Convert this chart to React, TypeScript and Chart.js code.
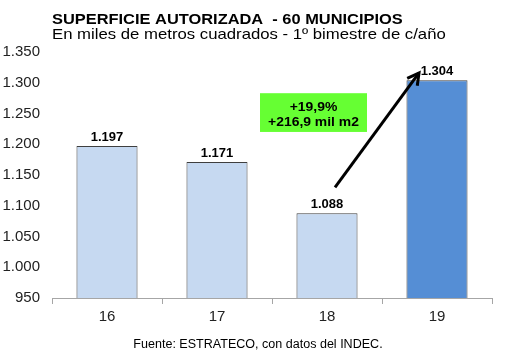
import React, { useEffect, useRef } from "react";
import { Chart, registerables } from "chart.js";

Chart.register(...registerables);

const categories = ["16", "17", "18", "19"];
const values = [1197, 1171, 1088, 1304];
const barColors = ["#c6d9f1", "#c6d9f1", "#c6d9f1", "#558ed5"];
const titleText = "SUPERFICIE AUTORIZADA  - 60 MUNICIPIOS";
const subtitleText = "En miles de metros cuadrados - 1º bimestre de c/año";
const sourceText = "Fuente: ESTRATECO, con datos del INDEC.";
const boxLines = ["+19,9%", "+216,9 mil m2"];

const fmt = (v: number) => {
  const s = Math.round(v).toString();
  return s.length > 3 ? s.slice(0, s.length - 3) + "." + s.slice(-3) : s;
};

const FONT = "'Liberation Sans', Arial, sans-serif";

function txt(ctx: any, s: string, x: number, y: number, font: string, sx: number, align: string, base: string) {
  ctx.save();
  ctx.font = font;
  ctx.textAlign = align;
  ctx.textBaseline = base;
  ctx.translate(x, y);
  ctx.scale(sx, 1);
  ctx.fillText(s, 0, 0);
  ctx.restore();
}

const overlay = {
  id: "overlay",
  afterDatasetsDraw(chart: any) {
    const ctx = chart.ctx;
    const x = chart.scales.x;
    const y = chart.scales.y;
    const meta = chart.getDatasetMeta(0);
    ctx.save();
    ctx.fillStyle = "#000";
    txt(ctx, titleText, 52, 23.5, `bold 15px ${FONT}`, 1.094, "left", "alphabetic");
    txt(ctx, subtitleText, 52, 38.5, `15px ${FONT}`, 1.115, "left", "alphabetic");
    // value labels
    meta.data.forEach((bar: any, i: number) => {
      txt(ctx, fmt(values[i]), bar.x, bar.y - 5.5, `bold 13px ${FONT}`, 1.0, "center", "alphabetic");
    });
    // green box
    const bx0 = x.getPixelForValue(2) - 67;
    const bx1 = x.getPixelForValue(2) + 40;
    const by0 = y.getPixelForValue(1283);
    const by1 = y.getPixelForValue(1220);
    ctx.fillStyle = "#66ff33";
    ctx.fillRect(bx0, by0, bx1 - bx0, by1 - by0);
    ctx.fillStyle = "#000";
    const cx = (bx0 + bx1) / 2;
    txt(ctx, boxLines[0], cx, by0 + 14.5, `bold 13px ${FONT}`, 1.07, "center", "middle");
    txt(ctx, boxLines[1], cx, by0 + 29, `bold 13px ${FONT}`, 1.07, "center", "middle");
    // arrow
    const ax0 = x.getPixelForValue(2) + 8;
    const ay0 = y.getPixelForValue(1130);
    const ax1 = x.getPixelForValue(3) - 18;
    const ay1 = y.getPixelForValue(1316);
    ctx.strokeStyle = "#000";
    ctx.lineWidth = 3;
    ctx.beginPath();
    ctx.moveTo(ax0, ay0);
    ctx.lineTo(ax1, ay1);
    ctx.stroke();
    const ang = Math.atan2(ay1 - ay0, ax1 - ax0);
    const hl = 13;
    ctx.beginPath();
    ctx.moveTo(ax1 - hl * Math.cos(ang - 0.5), ay1 - hl * Math.sin(ang - 0.5));
    ctx.lineTo(ax1, ay1);
    ctx.lineTo(ax1 - hl * Math.cos(ang + 0.5), ay1 - hl * Math.sin(ang + 0.5));
    ctx.stroke();
    // source
    ctx.fillStyle = "#000";
    txt(ctx, sourceText, 258, 345, `12px ${FONT}`, 1.045, "center", "middle");
    ctx.restore();
  },
};

export default function App() {
  const ref = useRef<HTMLCanvasElement>(null);
  useEffect(() => {
    if (!ref.current) return;
    const chart = new Chart(ref.current, {
      type: "bar",
      data: {
        labels: categories,
        datasets: [
          {
            data: values,
            backgroundColor: barColors,
            borderColor: "#3f3f3f",
            borderWidth: 1,
            borderSkipped: false,
            categoryPercentage: 1,
            barPercentage: 0.555,
          },
        ],
      },
      options: {
        animation: false,
        responsive: false,
        layout: { padding: { top: 52, right: 38, left: 0, bottom: 0 } },
        plugins: { legend: { display: false }, tooltip: { enabled: false }, title: { display: false } },
        scales: {
          y: {
            min: 950,
            max: 1350,
            border: { display: false },
            grid: { display: false, drawTicks: false },
            afterFit: (s: any) => { s.width = 52; },
            ticks: {
              stepSize: 50,
              padding: 12,
              color: "#222",
              font: { family: FONT, size: 15 },
              callback: (v: any) => fmt(Number(v)),
            },
          },
          x: {
            border: { display: true, color: "#a6a6a6", width: 1 },
            grid: { display: true, offset: true, drawOnChartArea: false, drawTicks: true, tickLength: 6, color: "#a6a6a6" },
            afterFit: (s: any) => { s.height = 66; },
            ticks: { padding: 4, color: "#222", font: { family: FONT, size: 15 } },
          },
        },
      },
      plugins: [overlay],
    });
    return () => chart.destroy();
  }, []);
  return (
    <div style={{ position: "fixed", left: 0, top: 0, width: 530, height: 364, background: "#fff" }}>
      <canvas ref={ref} width={530} height={364} style={{ width: 530, height: 364 }} />
    </div>
  );
}
